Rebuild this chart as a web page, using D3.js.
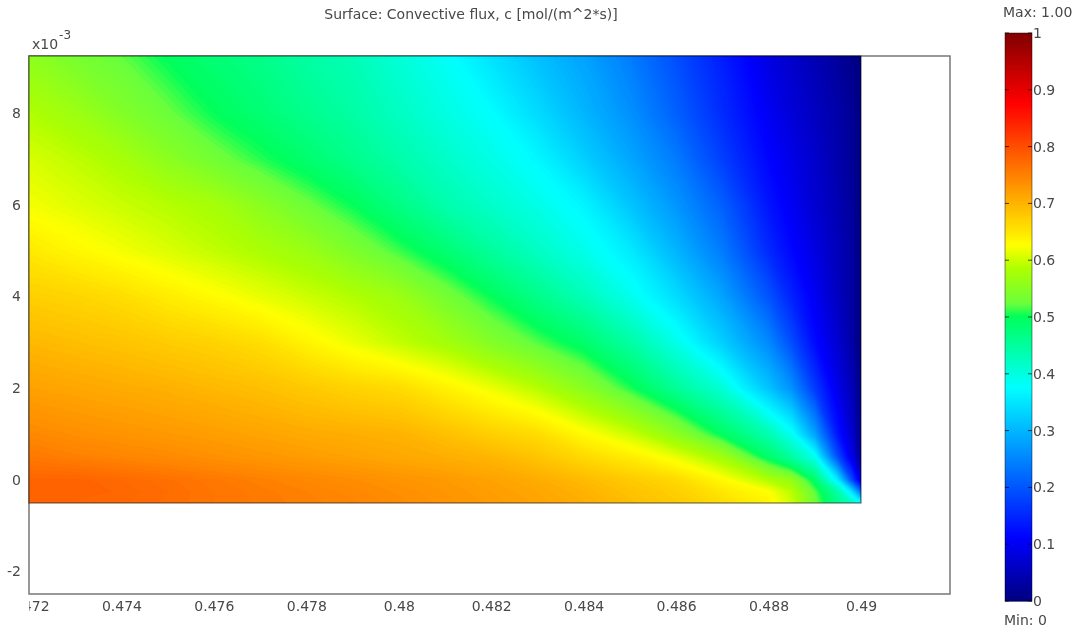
<!DOCTYPE html>
<html>
<head>
<meta charset="utf-8">
<script src="https://cdn.jsdelivr.net/npm/d3@7"></script>
<style>
html, body { margin:0; padding:0; background:#fff; }
svg { display:block; }
text { font-family:"DejaVu Sans", sans-serif; font-size:14px; fill:#484848; }
</style>
</head>
<body>
<div id="chart"></div>
<script>
var titleText = "Surface: Convective flux, c [mol/(m^2*s)]"
var maxText = "Max: 1.00"
var minText = "Min: 0"

var xTicks = [0.472,0.474,0.476,0.478,0.48,0.482,0.484,0.486,0.488,0.49]
var yTicks = [-2,0,2,4,6,8]
var barTicks = [0,0.1,0.2,0.3,0.4,0.5,0.6,0.7,0.8,0.9,1]

//sample columns and rows (y is in units of 10^-3)
var xValues = [0.472,0.473,0.474,0.475,0.476,0.477,0.478,0.479,0.48,0.481,0.482,0.483,0.484,0.485,0.486,0.487,0.488,0.4885,0.489,0.4895,0.4898,0.49]
var yValues = [9.25,8,7,6,5,4,3,2,1,0.5,0,-0.25,-0.5]

var fluxRows = [
    [.555,.535,.52,.497,.48,.465,.445,.43,.405,.38,.345,.31,.28,.24,.19,.14,.085,.065,.045,.025,.01,0],
    [.585,.568,.545,.524,.5,.481,.462,.444,.4215,.398,.375,.338,.299,.261,.21,.154,.10,.077,.056,.035,.02,0],
    [.605,.593,.578,.553,.53,.508,.486,.463,.44,.417,.394,.369,.326,.284,.238,.175,.113,.09,.066,.038,.02,0],
    [.62,.609,.598,.588,.577,.552,.526,.5,.469,.438,.416,.393,.365,.315,.266,.209,.13,.10,.07,.044,.025,0],
    [.646,.633,.62,.607,.594,.581,.566,.54,.512,.483,.45,.421,.391,.355,.298,.238,.153,.115,.085,.05,.03,0],
    [.672,.666,.657,.643,.629,.614,.60,.586,.568,.534,.5,.465,.43,.39,.34,.28,.197,.145,.10,.055,.03,0],
    [.695,.689,.683,.675,.668,.657,.636,.615,.595,.575,.545,.517,.488,.445,.392,.325,.253,.19,.12,.07,.035,0],
    [.717,.712,.707,.702,.695,.688,.678,.668,.66,.639,.616,.589,.552,.507,.455,.406,.314,.262,.172,.09,.05,.005],
    [.742,.735,.73,.725,.72,.714,.708,.704,.70,.687,.672,.659,.63,.60,.555,.495,.435,.385,.28,.13,.07,.01],
    [.757,.75,.745,.74,.734,.728,.722,.716,.71,.704,.697,.683,.662,.643,.615,.573,.49,.447,.39,.19,.09,.02],
    [.777,.778,.772,.765,.757,.75,.743,.737,.73,.724,.716,.706,.692,.677,.662,.63,.585,.56,.49,.355,.19,.08],
    [.78,.78,.775,.768,.76,.754,.748,.742,.735,.728,.72,.712,.70,.685,.672,.648,.625,.59,.52,.44,.345,.22],
    [.775,.775,.773,.767,.76,.755,.75,.745,.738,.73,.723,.715,.705,.69,.677,.657,.635,.60,.53,.46,.42,.38]
]

//colour table of the colour bar, the step at 0.5 is in the reference too
var colorStops = [0,0.11,0.375,0.5,0.522,0.585,0.625,0.875,1]
var colorValues = ["rgb(0,0,128)","rgb(0,0,255)","rgb(0,255,255)","rgb(0,255,90)","rgb(105,255,60)","rgb(175,255,0)","rgb(255,255,0)","rgb(255,0,0)","rgb(128,0,0)"]

var drawChart = function(){
    var sheet = {w:1075, h:630, left:29, right:950, top:56, bottom:594}

    var xScale = d3.scaleLinear().domain([0.472,0.49]).range([29,861])
    var yScale = d3.scaleLinear().domain([9.25,-0.5]).range([56,503])
    var frameY = d3.scaleLinear().domain([9.25,-2.5]).range([56,594])
    var barScale = d3.scaleLinear().domain([0,1]).range([601,33])
    var color = d3.scaleLinear().domain(colorStops).range(colorValues).clamp(true)

    var svg = d3.select("#chart").append("svg")
        .attr("width",sheet.w)
        .attr("height",sheet.h)

    var defs = svg.append("defs")
    defs.append("filter").attr("id","soft")
        .attr("x","-10%").attr("y","-30%").attr("width","120%").attr("height","160%")
        .append("feGaussianBlur").attr("stdDeviation",0.5)
    defs.append("clipPath").attr("id","domainClip")
        .append("rect")
        .attr("x",xScale(0.472))
        .attr("y",yScale(9.25))
        .attr("width",xScale(0.49)-xScale(0.472))
        .attr("height",yScale(-0.5)-yScale(9.25))
    //the first x label is cut by the left edge of the box (clip is in the axis group's own space)
    defs.append("clipPath").attr("id","labelClip")
        .append("rect").attr("x",29).attr("y",0).attr("width",960).attr("height",30)

    //white plot box
    svg.append("rect")
        .attr("x",sheet.left)
        .attr("y",sheet.top)
        .attr("width",sheet.right-sheet.left)
        .attr("height",sheet.bottom-sheet.top)
        .attr("fill","#fff")
        .attr("stroke","#777")
        .attr("stroke-width",1.5)

    //the surface, filled contour bands on the grid
    var nx = xValues.length
    var ny = yValues.length
    var flat = []
    fluxRows.forEach(function(row){
        row.forEach(function(v){ flat.push(v) })
    })

    //d3.contours puts sample i at i+0.5, so squeeze the half cell rim away
    var colEdges = [0]
    var colPos = [xValues[0]]
    xValues.forEach(function(v,i){ colEdges.push(i+0.5); colPos.push(v) })
    colEdges.push(nx); colPos.push(xValues[nx-1])
    var rowEdges = [0]
    var rowPos = [yValues[0]]
    yValues.forEach(function(v,i){ rowEdges.push(i+0.5); rowPos.push(v) })
    rowEdges.push(ny); rowPos.push(yValues[ny-1])
    var colToX = d3.scaleLinear().domain(colEdges).range(colPos)
    var rowToY = d3.scaleLinear().domain(rowEdges).range(rowPos)

    var path = d3.geoPath(d3.geoTransform({
        point: function(x,y){
            this.stream.point(xScale(colToX(x)),yScale(rowToY(y)))
        }
    }))

    var levels = d3.range(0,0.8,0.004)
    var bands = d3.contours().size([nx,ny]).thresholds(levels)(flat)

    var surface = svg.append("g").attr("clip-path","url(#domainClip)")
    surface.selectAll("path")
        .data(bands)
        .enter()
        .append("path")
        .attr("d",path)
        .attr("fill",function(d){ return color(d.value+0.002) })

    //domain outline
    svg.append("rect")
        .attr("x",xScale(0.472))
        .attr("y",yScale(9.25))
        .attr("width",xScale(0.49)-xScale(0.472))
        .attr("height",yScale(-0.5)-yScale(9.25))
        .attr("fill","none")
        .attr("stroke","#000")
        .attr("stroke-opacity",0.55)
        .attr("stroke-width",1.2)

    //axes
    var xAxis = svg.append("g")
        .attr("transform","translate(0,"+sheet.bottom+")")
        .attr("clip-path","url(#labelClip)")
        .call(d3.axisBottom(xScale).tickValues(xTicks).tickSize(0).tickPadding(7).tickFormat(function(d){ return String(d) }))
    xAxis.select(".domain").remove()
    xAxis.selectAll("text").attr("filter","url(#soft)")

    var yAxis = svg.append("g")
        .attr("transform","translate("+sheet.left+",0)")
        .call(d3.axisLeft(frameY).tickValues(yTicks).tickSize(0).tickPadding(8).tickFormat(function(d){ return String(d) }))
    yAxis.select(".domain").remove()
    yAxis.selectAll("text").attr("filter","url(#soft)")

    //axis exponent
    var expo = svg.append("text").attr("x",32).attr("y",49).attr("filter","url(#soft)")
    expo.append("tspan").text("x10")
    expo.append("tspan").attr("dy",-10).attr("dx",1).style("font-size","12px").text("-3")

    svg.append("text")
        .attr("x",471).attr("y",19)
        .attr("text-anchor","middle")
        .attr("filter","url(#soft)")
        .text(titleText)

    //colour bar
    var barX = 1005
    var barW = 27
    var barSteps = d3.range(0,1,1/284)
    svg.append("g").selectAll("rect")
        .data(barSteps)
        .enter()
        .append("rect")
        .attr("x",barX)
        .attr("y",function(d){ return barScale(d+1/284) })
        .attr("width",barW)
        .attr("height",barScale(0)-barScale(1/284)+0.5)
        .attr("fill",function(d){ return color(d) })

    svg.append("rect")
        .attr("x",barX).attr("y",barScale(1))
        .attr("width",barW).attr("height",barScale(0)-barScale(1))
        .attr("fill","none")
        .attr("stroke","#000").attr("stroke-opacity",0.45)

    var barG = svg.append("g").selectAll("g")
        .data(barTicks)
        .enter()
        .append("g")
    barG.append("line")
        .attr("x1",barX).attr("x2",barX+4)
        .attr("y1",function(d){ return barScale(d) })
        .attr("y2",function(d){ return barScale(d) })
        .attr("stroke","#000").attr("stroke-opacity",0.7)
    barG.append("line")
        .attr("x1",barX+barW-4).attr("x2",barX+barW)
        .attr("y1",function(d){ return barScale(d) })
        .attr("y2",function(d){ return barScale(d) })
        .attr("stroke","#000").attr("stroke-opacity",0.7)
    barG.append("text")
        .attr("x",barX+barW+1)
        .attr("y",function(d){ return barScale(d)+5 })
        .attr("filter","url(#soft)")
        .text(function(d){ return String(d) })

    svg.append("text").attr("x",1003).attr("y",17).attr("filter","url(#soft)").text(maxText)
    svg.append("text").attr("x",1004).attr("y",625).attr("filter","url(#soft)").text(minText)
}

drawChart()
</script>
</body>
</html>
